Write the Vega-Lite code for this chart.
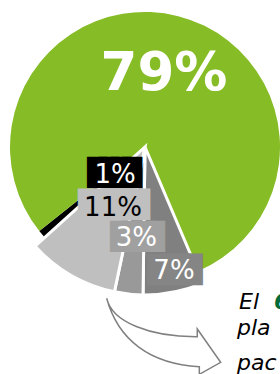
{
  "$schema": "https://vega.github.io/schema/vega-lite/v6.json",
  "width": 270,
  "height": 294,
  "padding": {"left": 10, "top": 0, "right": 0, "bottom": 80},
  "autosize": {"type": "none"},
  "background": "white",
  "config": {"view": {"stroke": null}},
  "data": {
    "values": [
      {"cat": "Gris oscuro", "valor": 6.6, "etiqueta": "7%", "orden": 1},
      {"cat": "Gris medio", "valor": 3.1, "etiqueta": "3%", "orden": 2},
      {"cat": "Gris claro", "valor": 10.0, "etiqueta": "11%", "orden": 3},
      {"cat": "Negro", "valor": 1.0, "etiqueta": "1%", "orden": 4},
      {"cat": "Verde", "valor": 79.3, "etiqueta": "79%", "orden": 5}
    ]
  },
  "layer": [
    {
      "mark": {"type": "arc", "radius": 135},
      "encoding": {
        "theta": {"field": "valor", "type": "quantitative", "stack": true, "scale": {"range": [2.7402, 9.0234]}},
        "order": {"field": "orden", "type": "quantitative"},
        "color": {"field": "cat", "type": "nominal", "scale": {"domain": ["Gris oscuro", "Gris medio", "Gris claro", "Negro", "Verde"], "range": ["#808080", "#999999", "#BFBFBF", "#000000", "#86BC25"]}, "legend": null}
      }
    },
    {
      "mark": {"type": "arc", "radius": 148, "stroke": "white", "strokeWidth": 3},
      "encoding": {
        "theta": {"field": "valor", "type": "quantitative", "stack": true, "scale": {"range": [2.7402, 9.0234]}},
        "order": {"field": "orden", "type": "quantitative"},
        "color": {"field": "cat", "type": "nominal", "legend": null},
        "opacity": {"condition": {"test": "datum.orden >= 4", "value": 0}, "value": 1}
      }
    },
    {
      "mark": {"type": "text", "radius": 41, "dx": 0.8, "dy": 5.7, "font": "DejaVu Sans Mono", "fontSize": 19.3, "fill": "#000000", "stroke": "#000000", "strokeWidth": 8.5, "strokeJoin": "miter", "align": "center", "baseline": "alphabetic"},
      "encoding": {
        "theta": {"field": "valor", "type": "quantitative", "stack": true},
        "order": {"field": "orden", "type": "quantitative"},
        "detail": {"field": "cat"},
        "text": {"condition": {"test": "datum.cat === 'Negro'", "value": "████"}, "value": ""}
      }
    },
    {
      "mark": {"type": "text", "radius": 68, "dx": 2.9, "dy": 6.3, "font": "DejaVu Sans Mono", "fontSize": 22.2, "fill": "#BFBFBF", "stroke": "#BFBFBF", "strokeWidth": 5.2, "strokeJoin": "miter", "align": "center", "baseline": "alphabetic"},
      "encoding": {
        "theta": {"field": "valor", "type": "quantitative", "stack": true},
        "order": {"field": "orden", "type": "quantitative"},
        "detail": {"field": "cat"},
        "text": {"condition": {"test": "datum.cat === 'Gris claro'", "value": "█████"}, "value": ""}
      }
    },
    {
      "mark": {"type": "text", "radius": 92, "dx": 2.6, "dy": 4.8, "font": "DejaVu Sans Mono", "fontSize": 19.3, "fill": "#A0A0A0", "stroke": "#A0A0A0", "strokeWidth": 8.5, "strokeJoin": "miter", "align": "center", "baseline": "alphabetic"},
      "encoding": {
        "theta": {"field": "valor", "type": "quantitative", "stack": true},
        "order": {"field": "orden", "type": "quantitative"},
        "detail": {"field": "cat"},
        "text": {"condition": {"test": "datum.cat === 'Gris medio'", "value": "████"}, "value": ""}
      }
    },
    {
      "mark": {"type": "text", "radius": 127, "dx": 5.5, "dy": 4.1, "font": "DejaVu Sans Mono", "fontSize": 19.3, "fill": "#858585", "stroke": "#858585", "strokeWidth": 9, "strokeJoin": "miter", "align": "center", "baseline": "alphabetic"},
      "encoding": {
        "theta": {"field": "valor", "type": "quantitative", "stack": true},
        "order": {"field": "orden", "type": "quantitative"},
        "detail": {"field": "cat"},
        "text": {"condition": {"test": "datum.cat === 'Gris oscuro'", "value": "████"}, "value": ""}
      }
    },
    {
      "mark": {"type": "text", "radius": 41, "dx": 1.3, "dy": 1.2, "font": "DejaVu Sans", "fontSize": 26, "fill": "white", "align": "center", "baseline": "middle"},
      "encoding": {
        "theta": {"field": "valor", "type": "quantitative", "stack": true},
        "order": {"field": "orden", "type": "quantitative"},
        "detail": {"field": "cat"},
        "text": {"condition": {"test": "datum.cat === 'Negro'", "field": "etiqueta"}, "value": ""}
      }
    },
    {
      "mark": {"type": "text", "radius": 68, "dx": 1.9, "dy": 1.8, "font": "DejaVu Sans", "fontSize": 26, "fill": "black", "align": "center", "baseline": "middle"},
      "encoding": {
        "theta": {"field": "valor", "type": "quantitative", "stack": true},
        "order": {"field": "orden", "type": "quantitative"},
        "detail": {"field": "cat"},
        "text": {"condition": {"test": "datum.cat === 'Gris claro'", "field": "etiqueta"}, "value": ""}
      }
    },
    {
      "mark": {"type": "text", "radius": 92, "dx": 1.6, "dy": -0.2, "font": "DejaVu Sans", "fontSize": 26, "fill": "white", "align": "center", "baseline": "middle"},
      "encoding": {
        "theta": {"field": "valor", "type": "quantitative", "stack": true},
        "order": {"field": "orden", "type": "quantitative"},
        "detail": {"field": "cat"},
        "text": {"condition": {"test": "datum.cat === 'Gris medio'", "field": "etiqueta"}, "value": ""}
      }
    },
    {
      "mark": {"type": "text", "radius": 127, "dx": 4.5, "dy": -0.9, "font": "DejaVu Sans", "fontSize": 26, "fill": "white", "align": "center", "baseline": "middle"},
      "encoding": {
        "theta": {"field": "valor", "type": "quantitative", "stack": true},
        "order": {"field": "orden", "type": "quantitative"},
        "detail": {"field": "cat"},
        "text": {"condition": {"test": "datum.cat === 'Gris oscuro'", "field": "etiqueta"}, "value": ""}
      }
    },
    {
      "mark": {"type": "text", "radius": 75, "dx": 0.5, "font": "DejaVu Sans", "fontWeight": "bold", "fontSize": 53, "fill": "white", "align": "center", "baseline": "middle"},
      "encoding": {
        "theta": {"field": "valor", "type": "quantitative", "stack": true},
        "order": {"field": "orden", "type": "quantitative"},
        "detail": {"field": "cat"},
        "text": {"condition": {"test": "datum.cat === 'Verde'", "field": "etiqueta"}, "value": ""}
      }
    },
    {
      "data": {"values": [{"forma": "flecha"}]},
      "mark": {"type": "point", "shape": "M -0.972 -0.628 C -0.883 -0.233 -0.25 0.017 0.538 0.012 L 0.538 -0.117 L 0.928 0.438 L 0.572 0.638 L 0.572 0.512 C -0.25 0.467 -0.783 0.067 -0.972 -0.628 Z", "size": 14400, "filled": true, "fill": "white", "stroke": "#808080", "strokeWidth": 1.5, "opacity": 1, "xOffset": 20, "yOffset": 189},
      "encoding": {}
    },
    {
      "data": {"values": [{"linea": "El"}]},
      "mark": {"type": "text", "text": "El", "font": "DejaVu Sans", "fontStyle": "italic", "fontSize": 22, "fill": "black", "align": "left", "baseline": "alphabetic", "dx": 94, "dy": 162},
      "encoding": {}
    },
    {
      "data": {"values": [{"linea": "6"}]},
      "mark": {"type": "text", "text": "6", "font": "DejaVu Sans", "fontStyle": "italic", "fontWeight": "bold", "fontSize": 22, "fill": "#046A38", "align": "left", "baseline": "alphabetic", "dx": 129, "dy": 162},
      "encoding": {}
    },
    {
      "data": {"values": [{"linea": "pla"}]},
      "mark": {"type": "text", "text": "pla", "font": "DejaVu Sans", "fontStyle": "italic", "fontSize": 22, "fill": "black", "align": "left", "baseline": "alphabetic", "dx": 92, "dy": 187.5},
      "encoding": {}
    },
    {
      "data": {"values": [{"linea": "pac"}]},
      "mark": {"type": "text", "text": "pac", "font": "DejaVu Sans", "fontStyle": "italic", "fontSize": 22, "fill": "black", "align": "left", "baseline": "alphabetic", "dx": 92, "dy": 223},
      "encoding": {}
    }
  ]
}
